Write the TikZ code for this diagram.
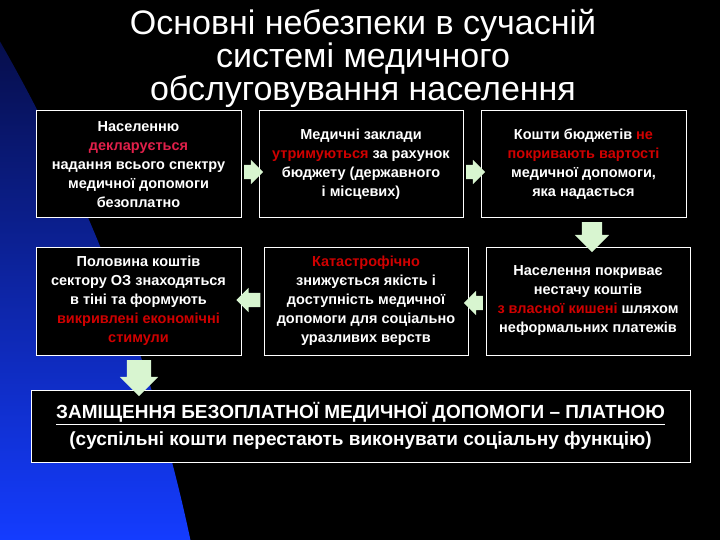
\documentclass[tikz,border=0pt]{standalone}
\usepackage{fontspec}
\setmainfont{Liberation Sans}
\usetikzlibrary{shapes.arrows}
\definecolor{rd}{HTML}{D00000}
\definecolor{pk}{HTML}{E0204A}
\definecolor{ag}{HTML}{D8F5D0}
\tikzset{
 bx/.style={draw=white,line width=1pt,fill=black,text=white,font=\bfseries\fontsize{14.5}{19}\selectfont,align=center,inner sep=0pt},
 ar/.style={single arrow,fill=ag,draw=none,minimum height=20pt,single arrow head extend=5pt,inner sep=0pt}
}
\begin{document}
\begin{tikzpicture}[x=1pt,y=-1pt]
\useasboundingbox (0,0) rectangle (720,540);
\fill[black] (0,0) rectangle (720,540);
\begin{scope}
\clip (-1500,900) circle (1728);
\shade[top color={rgb,255:red,5;green,10;blue,60},bottom color={rgb,255:red,20;green,60;blue,255}] (0,0) rectangle (720,540);
\end{scope}
\node[text=white,font=\fontsize{34}{33}\selectfont,align=center] (t) at (363,58) {Основні небезпеки в сучасній\\системі медичного\\обслуговування населення};
\node[bx,minimum width=205pt,minimum height=107pt] (b1) at (138.5,164.5) {Населенню\\\textcolor{pk}{декларується}\\надання всього спектру\\медичної допомоги\\безоплатно};
\node[bx,minimum width=204pt,minimum height=107pt] (b2) at (361,164.5) {Медичні заклади\\\textcolor{rd}{утримуються} за рахунок\\бюджету (державного\\і місцевих)};
\node[bx,minimum width=205pt,minimum height=107pt] (b3) at (583.5,164.5) {Кошти бюджетів \textcolor{rd}{не}\\\textcolor{rd}{покривають вартості}\\медичної допомоги,\\яка надається};
\node[bx,minimum width=205pt,minimum height=108pt] (b4) at (138.5,301) {Половина коштів\\сектору ОЗ знаходяться\\в тіні та формують\\\textcolor{rd}{викривлені економічні}\\\textcolor{rd}{стимули}};
\node[bx,minimum width=204pt,minimum height=108pt] (b5) at (366,301) {\textcolor{rd}{Катастрофічно}\\знижується якість і\\доступність медичної\\допомоги для соціально\\уразливих верств};
\node[bx,minimum width=204pt,minimum height=108pt] (b6) at (588,301) {Населення покриває\\нестачу коштів\\\textcolor{rd}{з власної кишені} шляхом\\неформальних платежів};
\node[bx,minimum width=659pt,minimum height=72pt,font=\bfseries\fontsize{19}{27}\selectfont] (b7) at (360.5,426) {\underline{ЗАМІЩЕННЯ БЕЗОПЛАТНОЇ МЕДИЧНОЇ ДОПОМОГИ – ПЛАТНОЮ}\\(суспільні кошти перестають виконувати соціальну функцію)};
\node[ar,minimum height=19pt] (a1) at (250,172) {\rule{0pt}{14pt}};
\node[ar,minimum height=19pt] (a2) at (472,172) {\rule{0pt}{14pt}};
\node[ar,shape border rotate=270,minimum height=30pt,single arrow head extend=7pt] (a3) at (592,232) {\rule{20pt}{0pt}};
\node[ar,shape border rotate=180,minimum height=19pt] (a4) at (477,303) {\rule{0pt}{14pt}};
\node[ar,shape border rotate=180,minimum height=24pt] (a5) at (252,300) {\rule{0pt}{14pt}};
\node[ar,shape border rotate=270,minimum height=36pt,single arrow head extend=7pt] (a6) at (139,372) {\rule{24pt}{0pt}};
\end{tikzpicture}
\end{document}
